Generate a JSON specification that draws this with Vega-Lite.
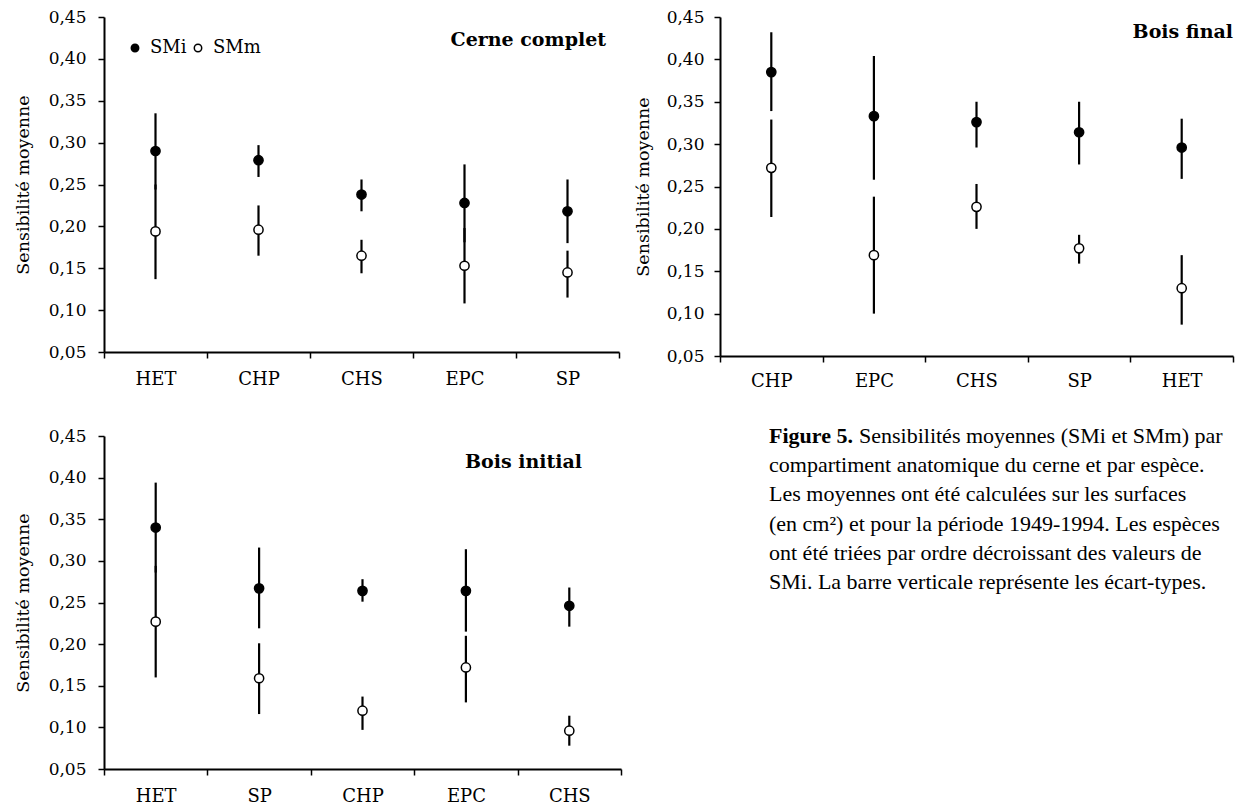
{
  "$schema": "https://vega.github.io/schema/vega-lite/v6.json",
  "background": "white",
  "padding": {"left": 14, "top": 8, "right": 0, "bottom": 0},
  "config": {
    "view": {"stroke": null},
    "font": "DejaVu Serif",
    "axis": {
      "domainColor": "black", "domainWidth": 2, "tickColor": "black", "tickWidth": 1.5,
      "labelColor": "black", "titleColor": "black", "grid": false,
      "labelFont": "DejaVu Serif", "titleFont": "DejaVu Serif", "titleFontWeight": "normal"
    }
  },
  "datasets": {
    "d": [
      {"panel": "Cerne complet", "species": "HET", "series": "SMi", "mean": 0.290, "lo": 0.244, "hi": 0.335},
      {"panel": "Cerne complet", "species": "HET", "series": "SMm", "mean": 0.194, "lo": 0.137, "hi": 0.250},
      {"panel": "Cerne complet", "species": "CHP", "series": "SMi", "mean": 0.279, "lo": 0.259, "hi": 0.297},
      {"panel": "Cerne complet", "species": "CHP", "series": "SMm", "mean": 0.196, "lo": 0.165, "hi": 0.225},
      {"panel": "Cerne complet", "species": "CHS", "series": "SMi", "mean": 0.238, "lo": 0.218, "hi": 0.256},
      {"panel": "Cerne complet", "species": "CHS", "series": "SMm", "mean": 0.165, "lo": 0.144, "hi": 0.184},
      {"panel": "Cerne complet", "species": "EPC", "series": "SMi", "mean": 0.228, "lo": 0.181, "hi": 0.274},
      {"panel": "Cerne complet", "species": "EPC", "series": "SMm", "mean": 0.153, "lo": 0.108, "hi": 0.198},
      {"panel": "Cerne complet", "species": "SP", "series": "SMi", "mean": 0.218, "lo": 0.180, "hi": 0.256},
      {"panel": "Cerne complet", "species": "SP", "series": "SMm", "mean": 0.145, "lo": 0.115, "hi": 0.171},
      {"panel": "Bois final", "species": "CHP", "series": "SMi", "mean": 0.385, "lo": 0.339, "hi": 0.432},
      {"panel": "Bois final", "species": "CHP", "series": "SMm", "mean": 0.272, "lo": 0.214, "hi": 0.329},
      {"panel": "Bois final", "species": "EPC", "series": "SMi", "mean": 0.333, "lo": 0.258, "hi": 0.404},
      {"panel": "Bois final", "species": "EPC", "series": "SMm", "mean": 0.169, "lo": 0.100, "hi": 0.238},
      {"panel": "Bois final", "species": "CHS", "series": "SMi", "mean": 0.326, "lo": 0.296, "hi": 0.350},
      {"panel": "Bois final", "species": "CHS", "series": "SMm", "mean": 0.226, "lo": 0.200, "hi": 0.253},
      {"panel": "Bois final", "species": "SP", "series": "SMi", "mean": 0.314, "lo": 0.276, "hi": 0.350},
      {"panel": "Bois final", "species": "SP", "series": "SMm", "mean": 0.177, "lo": 0.159, "hi": 0.193},
      {"panel": "Bois final", "species": "HET", "series": "SMi", "mean": 0.296, "lo": 0.259, "hi": 0.330},
      {"panel": "Bois final", "species": "HET", "series": "SMm", "mean": 0.130, "lo": 0.087, "hi": 0.169},
      {"panel": "Bois initial", "species": "HET", "series": "SMi", "mean": 0.340, "lo": 0.286, "hi": 0.394},
      {"panel": "Bois initial", "species": "HET", "series": "SMm", "mean": 0.227, "lo": 0.160, "hi": 0.294},
      {"panel": "Bois initial", "species": "SP", "series": "SMi", "mean": 0.267, "lo": 0.219, "hi": 0.316},
      {"panel": "Bois initial", "species": "SP", "series": "SMm", "mean": 0.159, "lo": 0.116, "hi": 0.201},
      {"panel": "Bois initial", "species": "CHP", "series": "SMi", "mean": 0.264, "lo": 0.251, "hi": 0.278},
      {"panel": "Bois initial", "species": "CHP", "series": "SMm", "mean": 0.120, "lo": 0.097, "hi": 0.137},
      {"panel": "Bois initial", "species": "EPC", "series": "SMi", "mean": 0.264, "lo": 0.215, "hi": 0.314},
      {"panel": "Bois initial", "species": "EPC", "series": "SMm", "mean": 0.172, "lo": 0.130, "hi": 0.210},
      {"panel": "Bois initial", "species": "CHS", "series": "SMi", "mean": 0.246, "lo": 0.221, "hi": 0.268},
      {"panel": "Bois initial", "species": "CHS", "series": "SMm", "mean": 0.096, "lo": 0.078, "hi": 0.114}
    ]
  },
  "spacing": 35,
  "resolve": {"scale": {"fill": "independent"}, "legend": {"fill": "independent"}},
  "vconcat": [
    {
      "spacing": 14,
      "resolve": {"scale": {"fill": "independent"}, "legend": {"fill": "independent"}},
      "hconcat": [
        {
          "width": 515, "height": 335,
          "encoding": {
            "x": {"field": "species", "type": "nominal", "sort": ["HET", "CHP", "CHS", "EPC", "SP"],
                  "scale": {"type": "band", "paddingInner": 0, "paddingOuter": 0},
                  "axis": {"title": null, "tickBand": "extent", "labelAngle": 0, "labelFontSize": 18, "tickSize": 6, "labelPadding": 12}}
          },
          "layer": [
            {
              "data": {"name": "d"},
              "transform": [{"filter": "datum.panel === 'Cerne complet'"}],
              "mark": {"type": "rule", "color": "black", "strokeWidth": 2.2},
              "encoding": {
                "y": {"field": "lo", "type": "quantitative", "title": "Sensibilité moyenne",
                      "scale": {"domain": [0.05, 0.45], "nice": false, "zero": false},
                      "axis": {"values": [0.05, 0.10, 0.15, 0.20, 0.25, 0.30, 0.35, 0.40, 0.45],
                               "labelExpr": "replace(format(datum.value, '.2f'), '.', ',')",
                               "tickSize": 6, "labelPadding": 12, "labelFontSize": 17, "titleFontSize": 17.5, "titlePadding": 16}},
                "y2": {"field": "hi"}
              }
            },
            {
              "data": {"name": "d"},
              "transform": [{"filter": "datum.panel === 'Cerne complet'"}],
              "mark": {"type": "point", "shape": "circle", "filled": true, "size": 85, "stroke": "black", "strokeWidth": 1.5, "opacity": 1},
              "encoding": {
                "y": {"field": "mean", "type": "quantitative", "title": "Sensibilité moyenne"},
                "fill": {"field": "series", "type": "nominal",
                         "scale": {"domain": ["SMi", "SMm"], "range": ["black", "white"]},
                         "legend": {"title": null, "orient": "top-left", "direction": "horizontal", "offset": 18, "padding": 4,
                                    "labelFont": "DejaVu Serif", "labelFontSize": 18, "labelColor": "black",
                                    "symbolType": "circle", "symbolSize": 55, "symbolStrokeColor": "black", "symbolStrokeWidth": 1.5,
                                    "columnPadding": 2, "labelOffset": 6}}
              }
            },
            {
              "data": {"values": [{"t": "Cerne complet"}]},
              "mark": {"type": "text", "align": "right", "baseline": "middle", "dx": -13, "font": "DejaVu Serif", "fontSize": 19, "fontWeight": "bold", "color": "black"},
              "encoding": {"x": {"value": "width"}, "y": {"datum": 0.4225}, "text": {"field": "t"}}
            }
          ]
        },
        {
          "width": 513, "height": 339,
          "encoding": {
            "x": {"field": "species", "type": "nominal", "sort": ["CHP", "EPC", "CHS", "SP", "HET"],
                  "scale": {"type": "band", "paddingInner": 0, "paddingOuter": 0},
                  "axis": {"title": null, "tickBand": "extent", "labelAngle": 0, "labelFontSize": 18, "tickSize": 6, "labelPadding": 10}}
          },
          "layer": [
            {
              "data": {"name": "d"},
              "transform": [{"filter": "datum.panel === 'Bois final'"}],
              "mark": {"type": "rule", "color": "black", "strokeWidth": 2.2},
              "encoding": {
                "y": {"field": "lo", "type": "quantitative", "title": "Sensibilité moyenne",
                      "scale": {"domain": [0.05, 0.45], "nice": false, "zero": false},
                      "axis": {"values": [0.05, 0.10, 0.15, 0.20, 0.25, 0.30, 0.35, 0.40, 0.45],
                               "labelExpr": "replace(format(datum.value, '.2f'), '.', ',')",
                               "tickSize": 6, "labelPadding": 10, "labelFontSize": 17, "titleFontSize": 17.5, "titlePadding": 14}},
                "y2": {"field": "hi"}
              }
            },
            {
              "data": {"name": "d"},
              "transform": [{"filter": "datum.panel === 'Bois final'"}],
              "mark": {"type": "point", "shape": "circle", "filled": true, "size": 85, "stroke": "black", "strokeWidth": 1.5, "opacity": 1},
              "encoding": {
                "y": {"field": "mean", "type": "quantitative", "title": "Sensibilité moyenne"},
                "fill": {"field": "series", "type": "nominal",
                         "scale": {"domain": ["SMi", "SMm"], "range": ["black", "white"]}, "legend": null}
              }
            },
            {
              "data": {"values": [{"t": "Bois final"}]},
              "mark": {"type": "text", "align": "right", "baseline": "middle", "dx": 0, "font": "DejaVu Serif", "fontSize": 19, "fontWeight": "bold", "color": "black"},
              "encoding": {"x": {"value": "width"}, "y": {"datum": 0.4326}, "text": {"field": "t"}}
            }
          ]
        }
      ]
    },
    {
      "spacing": 147,
      "resolve": {"scale": {"fill": "independent"}, "legend": {"fill": "independent"}},
      "hconcat": [
        {
          "width": 517, "height": 333,
          "encoding": {
            "x": {"field": "species", "type": "nominal", "sort": ["HET", "SP", "CHP", "EPC", "CHS"],
                  "scale": {"type": "band", "paddingInner": 0, "paddingOuter": 0},
                  "axis": {"title": null, "tickBand": "extent", "labelAngle": 0, "labelFontSize": 18, "tickSize": 6, "labelPadding": 12}}
          },
          "layer": [
            {
              "data": {"name": "d"},
              "transform": [{"filter": "datum.panel === 'Bois initial'"}],
              "mark": {"type": "rule", "color": "black", "strokeWidth": 2.2},
              "encoding": {
                "y": {"field": "lo", "type": "quantitative", "title": "Sensibilité moyenne",
                      "scale": {"domain": [0.05, 0.45], "nice": false, "zero": false},
                      "axis": {"values": [0.05, 0.10, 0.15, 0.20, 0.25, 0.30, 0.35, 0.40, 0.45],
                               "labelExpr": "replace(format(datum.value, '.2f'), '.', ',')",
                               "tickSize": 6, "labelPadding": 12, "labelFontSize": 17, "titleFontSize": 17.5, "titlePadding": 16}},
                "y2": {"field": "hi"}
              }
            },
            {
              "data": {"name": "d"},
              "transform": [{"filter": "datum.panel === 'Bois initial'"}],
              "mark": {"type": "point", "shape": "circle", "filled": true, "size": 85, "stroke": "black", "strokeWidth": 1.5, "opacity": 1},
              "encoding": {
                "y": {"field": "mean", "type": "quantitative", "title": "Sensibilité moyenne"},
                "fill": {"field": "series", "type": "nominal",
                         "scale": {"domain": ["SMi", "SMm"], "range": ["black", "white"]}, "legend": null}
              }
            },
            {
              "data": {"values": [{"t": "Bois initial"}]},
              "mark": {"type": "text", "align": "right", "baseline": "middle", "dx": -39, "font": "DejaVu Serif", "fontSize": 19, "fontWeight": "bold", "color": "black"},
              "encoding": {"x": {"value": "width"}, "y": {"datum": 0.4188}, "text": {"field": "t"}}
            }
          ]
        },
        {
          "width": 475, "height": 146,
          "encoding": {
            "x": {"datum": 0, "type": "quantitative", "scale": {"domain": [0, 1]}, "axis": null},
            "y": {"field": "line", "type": "ordinal", "scale": {"type": "point", "padding": 0}, "axis": null},
            "text": {"field": "t"}
          },
          "layer": [
            {
              "data": {"values": [{"line": 1, "t": "Figure 5."}]},
              "mark": {"type": "text", "align": "left", "baseline": "middle", "font": "Liberation Serif", "fontSize": 22, "fontWeight": "bold", "color": "black"}
            },
            {
              "data": {"values": [{"line": 1, "t": "Sensibilités moyennes (SMi et SMm) par"}]},
              "mark": {"type": "text", "align": "left", "baseline": "middle", "dx": 90, "font": "Liberation Serif", "fontSize": 22, "color": "black"}
            },
            {
              "data": {"values": [
                {"line": 2, "t": "compartiment anatomique du cerne et par espèce."},
                {"line": 3, "t": "Les moyennes ont été calculées sur les surfaces"},
                {"line": 4, "t": "(en cm²) et pour la période 1949-1994. Les espèces"},
                {"line": 5, "t": "ont été triées par ordre décroissant des valeurs de"},
                {"line": 6, "t": "SMi. La barre verticale représente les écart-types."}
              ]},
              "mark": {"type": "text", "align": "left", "baseline": "middle", "font": "Liberation Serif", "fontSize": 22, "color": "black"}
            }
          ]
        }
      ]
    }
  ]
}
